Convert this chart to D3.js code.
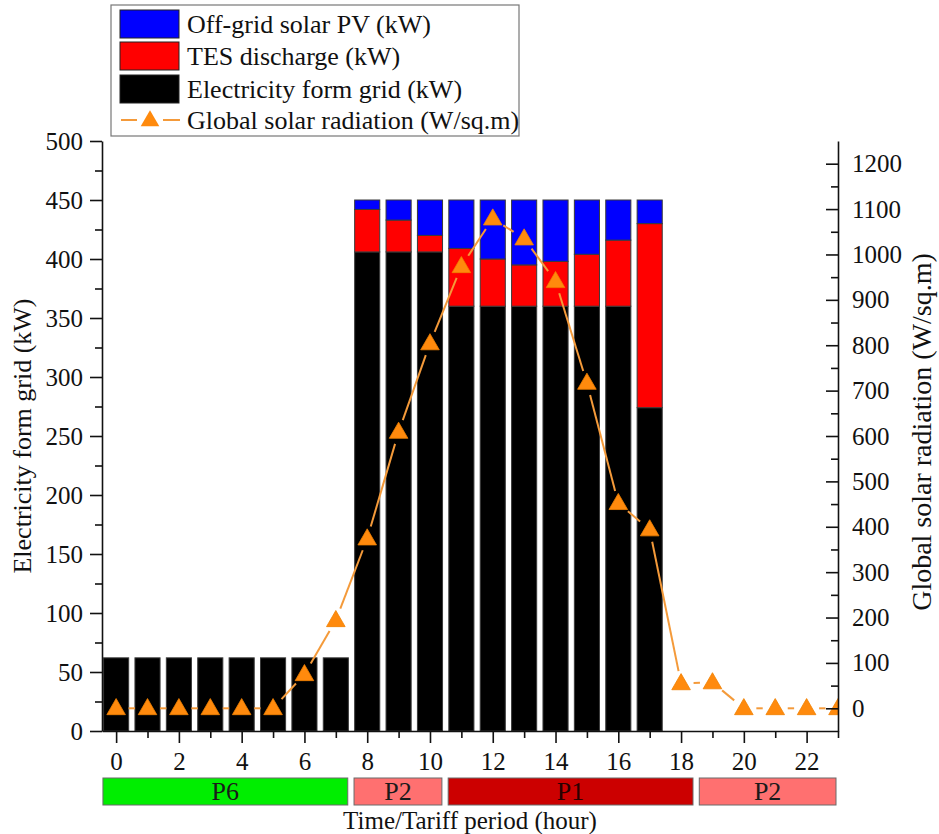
<!DOCTYPE html>
<html>
<head>
<meta charset="utf-8">
<script src="https://cdn.jsdelivr.net/npm/d3@7"></script>
<style>
  body { margin: 0; background: #fff; }
  svg text { font-family: "Liberation Serif", "Times New Roman", serif; fill: #111; }
</style>
</head>
<body>
<svg id="chart" width="939" height="834"></svg>
<script>
// hours 0..23
const hours = d3.range(0, 24);

// stacked bars (kW), hours 0..17
const barHours = d3.range(0, 18);
const gridKW = [62, 62, 62, 62, 62, 62, 62, 62, 406, 406, 406, 360, 360, 360, 360, 360, 360, 274];
const tesKW  = [0, 0, 0, 0, 0, 0, 0, 0, 36, 27, 14, 49, 40, 35, 38, 44, 56, 156];
const pvKW   = [0, 0, 0, 0, 0, 0, 0, 0, 8, 17, 30, 41, 50, 55, 52, 46, 34, 20];

// global solar radiation (W/sq.m)
const radiation = [0, 0, 0, 0, 0, 0, 75, 194, 374, 609, 804, 974, 1079, 1035, 941, 717, 452, 394, 55, 57, 0, 0, 0, 0];

// tariff periods
const tariffNames = ["P6", "P2", "P1", "P2"];
const tariffStart = [0, 8, 11, 19];
const tariffEnd   = [7, 10, 18, 23];
const tariffColors = ["#00ee00", "#ff7070", "#cc0000", "#ff7070"];

const legendLabels = ["Off-grid solar PV (kW)", "TES discharge (kW)", "Electricity form grid (kW)", "Global solar radiation (W/sq.m)"];

const leftTicks = d3.range(0, 501, 50);
const rightTicks = d3.range(0, 1201, 100);
const xTicks = d3.range(0, 23, 2);

const svg = d3.select("#chart");

const plot = { left: 102, right: 838, top: 141, bottom: 731 };

const x = d3.scaleLinear().domain([-0.45, 23]).range([plot.left, plot.right]);
const yL = d3.scaleLinear().domain([0, 500]).range([plot.bottom, plot.top]);
const yR = d3.scaleLinear().domain([-50, 1250]).range([plot.bottom, plot.top]);

const colors = { grid: "#000000", tes: "#ff0000", pv: "#0000ff" };

svg.append("defs").append("clipPath").attr("id", "plotclip")
  .append("rect")
  .attr("x", plot.left).attr("y", plot.top - 20)
  .attr("width", plot.right - plot.left).attr("height", plot.bottom - plot.top + 20);

// bars
const table = barHours.map((h, i) => ({ hour: h, grid: gridKW[i], tes: tesKW[i], pv: pvKW[i] }));
const stack = d3.stack().keys(["grid", "tes", "pv"])(table);
const barW = x(0.8) - x(0);

svg.append("g").selectAll("g")
  .data(stack)
  .join("g")
  .attr("fill", d => colors[d.key])
  .selectAll("rect")
  .data(d => d.filter(v => v[1] - v[0] > 0))
  .join("rect")
  .attr("x", d => x(d.data.hour) - barW / 2)
  .attr("y", d => yL(d[1]))
  .attr("width", barW)
  .attr("height", d => yL(d[0]) - yL(d[1]))
  .attr("stroke", "#3a3a3a")
  .attr("stroke-width", 1);

// radiation line, with gaps around the markers
const pts = hours.map((h, i) => [x(h), yR(radiation[i])]);
const gap = 12.5;
const segs = [];
for (let i = 0; i < pts.length - 1; i++) {
  const [x0, y0] = pts[i], [x1, y1] = pts[i + 1];
  const len = Math.hypot(x1 - x0, y1 - y0);
  if (len <= 2 * gap) continue;
  const ux = (x1 - x0) / len, uy = (y1 - y0) / len;
  segs.push([x0 + ux * gap, y0 + uy * gap, x1 - ux * gap, y1 - uy * gap]);
}
const lineG = svg.append("g").attr("clip-path", "url(#plotclip)");
lineG.selectAll("line")
  .data(segs)
  .join("line")
  .attr("x1", d => d[0]).attr("y1", d => d[1])
  .attr("x2", d => d[2]).attr("y2", d => d[3])
  .attr("stroke", "#f49a3a")
  .attr("stroke-width", 2);

const tri = d3.symbol().type(d3.symbolTriangle).size(150);
lineG.selectAll("path")
  .data(hours)
  .join("path")
  .attr("d", tri)
  .attr("transform", (h, i) => `translate(${x(h)},${yR(radiation[i]) + 1})`)
  .attr("fill", "#ff8a0d")
  .attr("stroke", "#f08000")
  .attr("stroke-width", 0.8);

// axes
function styleAxis(g) {
  g.selectAll("path.domain").attr("stroke", "#111").attr("stroke-width", 1.6);
  g.selectAll(".tick line").attr("stroke", "#111").attr("stroke-width", 1.6);
  g.selectAll("text").attr("font-size", 25).attr("fill", "#111");
}

// left axis
svg.append("g")
  .attr("transform", `translate(${plot.left},0)`)
  .call(d3.axisLeft(yL).tickValues(d3.range(25, 500, 50)).tickSize(7).tickFormat(""))
  .call(styleAxis)
  .call(g => g.select(".domain").remove());
svg.append("g")
  .attr("transform", `translate(${plot.left},0)`)
  .call(d3.axisLeft(yL).tickValues(leftTicks).tickSize(12).tickSizeOuter(0).tickPadding(7))
  .call(styleAxis);

// right axis, ticks pointing inward
svg.append("g")
  .attr("transform", `translate(${plot.right},0)`)
  .call(d3.axisRight(yR).tickValues(d3.range(50, 1250, 100)).tickSize(-7).tickFormat(""))
  .call(styleAxis)
  .call(g => g.select(".domain").remove());
svg.append("g")
  .attr("transform", `translate(${plot.right},0)`)
  .call(d3.axisRight(yR).tickValues(rightTicks).tickSize(-12).tickSizeOuter(0).tickPadding(14).tickFormat(d3.format("d")))
  .call(styleAxis);

// bottom axis
svg.append("g")
  .attr("transform", `translate(0,${plot.bottom})`)
  .call(d3.axisBottom(x).tickValues(d3.range(1, 24, 2)).tickSize(7).tickFormat(""))
  .call(styleAxis)
  .call(g => g.select(".domain").remove());
svg.append("g")
  .attr("transform", `translate(0,${plot.bottom})`)
  .call(d3.axisBottom(x).tickValues(xTicks).tickSize(12).tickSizeOuter(0).tickPadding(9))
  .call(styleAxis);

// axis titles
svg.append("text")
  .attr("transform", `translate(31,${(plot.top + plot.bottom) / 2}) rotate(-90)`)
  .attr("text-anchor", "middle")
  .attr("font-size", 26)
  .text("Electricity form grid (kW)");

svg.append("text")
  .attr("transform", `translate(931,432) rotate(-90)`)
  .attr("text-anchor", "middle")
  .attr("font-size", 28)
  .text("Global solar radiation (W/sq.m)");

svg.append("text")
  .attr("x", 470).attr("y", 829)
  .attr("text-anchor", "middle")
  .attr("font-size", 25)
  .text("Time/Tariff period (hour)");

// tariff period boxes
const tariffs = tariffNames.map((n, i) => ({
  name: n,
  x0: x(tariffStart[i] - 0.42),
  x1: Math.min(x(tariffEnd[i] + 0.38), plot.right - 2),
  color: tariffColors[i]
}));
const tg = svg.append("g").selectAll("g").data(tariffs).join("g");
tg.append("rect")
  .attr("x", d => d.x0).attr("y", 778)
  .attr("width", d => d.x1 - d.x0).attr("height", 27)
  .attr("fill", d => d.color)
  .attr("stroke", "#6a6a6a").attr("stroke-width", 1);
tg.append("text")
  .attr("x", d => (d.x0 + d.x1) / 2).attr("y", 800)
  .attr("text-anchor", "middle")
  .attr("font-size", 26)
  .style("fill", d => d.name === "P1" ? "#2a0000" : "#1a1a1a")
  .text(d => d.name);

// legend
const lg = svg.append("g");
lg.append("rect")
  .attr("x", 111).attr("y", 5).attr("width", 408).attr("height", 131)
  .attr("fill", "#fff").attr("stroke", "#777").attr("stroke-width", 1.2);
const swatchColors = [colors.pv, colors.tes, colors.grid];
const rowY = [24, 56, 89, 120];
swatchColors.forEach((c, i) => {
  lg.append("rect")
    .attr("x", 120).attr("y", rowY[i] - 14).attr("width", 59).attr("height", 28)
    .attr("fill", c).attr("stroke", "#222").attr("stroke-width", 1);
});
lg.append("line")
  .attr("x1", 121).attr("x2", 180).attr("y1", rowY[3]).attr("y2", rowY[3])
  .attr("stroke", "#f49a3a").attr("stroke-width", 2);
lg.append("rect")
  .attr("x", 137).attr("y", rowY[3] - 5).attr("width", 26).attr("height", 10)
  .attr("fill", "#fff");
lg.append("path")
  .attr("d", tri)
  .attr("transform", `translate(150,${rowY[3] + 1})`)
  .attr("fill", "#ff8a0d");
legendLabels.forEach((t, i) => {
  lg.append("text")
    .attr("x", 187).attr("y", rowY[i] + 9)
    .attr("font-size", 26)
    .text(t);
});
</script>
</body>
</html>
